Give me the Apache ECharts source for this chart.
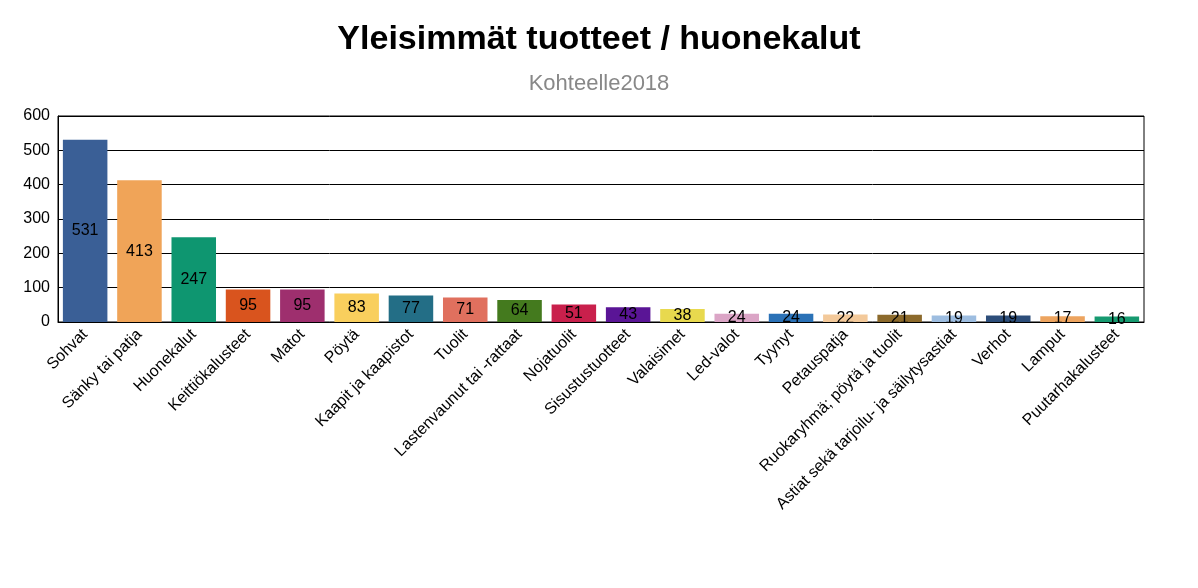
<!DOCTYPE html><html><head><meta charset="utf-8"><script src="https://cdn.jsdelivr.net/npm/echarts@6/dist/echarts.min.js"></script></head><body style="margin:0;background:#fff"><div id="c" style="width:1198px;height:588px"></div><script>
const categories=["Sohvat","Sänky tai patja","Huonekalut","Keittiökalusteet","Matot","Pöytä","Kaapit ja kaapistot","Tuolit","Lastenvaunut tai -rattaat","Nojatuolit","Sisustustuotteet","Valaisimet","Led-valot","Tyynyt","Petauspatja","Ruokaryhmä; pöytä ja tuolit","Astiat sekä tarjoilu- ja säilytysastiat","Verhot","Lamput","Puutarhakalusteet"];
const values=[531,413,247,95,95,83,77,71,64,51,43,38,24,24,22,21,19,19,17,16];
const colors=["#3a5f96","#f0a458","#0e9670","#d9541e","#9e2f6e","#f9cf5d","#236e86","#e0705e","#447a1e","#c9204c","#5a1596","#e8d94e","#dba5c6","#2b72b7","#f3c99a","#8c6a2c","#9dbde0","#2d4e7a","#eda45f","#169a70"];
const yTicks=[0,100,200,300,400,500,600];
const ch=echarts.init(document.getElementById('c'));
ch.setOption({
title:[{text:"Yleisimmät tuotteet / huonekalut",left:'center',top:18,textStyle:{fontFamily:'Liberation Sans',fontSize:34,fontWeight:'bold',color:'#000'}},
{text:"Kohteelle2018",left:'center',top:68,textStyle:{fontFamily:'Liberation Sans',fontSize:22,fontWeight:'normal',color:'#888'}}],
grid:{left:58,right:54,top:116,bottom:266,show:true,borderColor:'#000',borderWidth:1},
xAxis:{type:'category',data:categories,axisTick:{show:false},axisLine:{lineStyle:{color:'#000'}},axisLabel:{rotate:45,interval:0,fontFamily:'Liberation Sans',fontSize:16,color:'#000',margin:10}},
yAxis:{type:'value',min:0,max:600,interval:100,axisLine:{show:true,lineStyle:{color:'#000'}},axisTick:{show:false},splitLine:{lineStyle:{color:'#000'}},axisLabel:{fontFamily:'Liberation Sans',fontSize:16,color:'#000',formatter:v=>yTicks.includes(v)?v:''}},
series:[{type:'bar',barCategoryGap:'18%',data:values.map((v,i)=>({value:v,itemStyle:{color:colors[i]}})),label:{show:true,position:'inside',fontFamily:'Liberation Sans',fontSize:16,color:'#000'}}]
});
</script></body></html>
